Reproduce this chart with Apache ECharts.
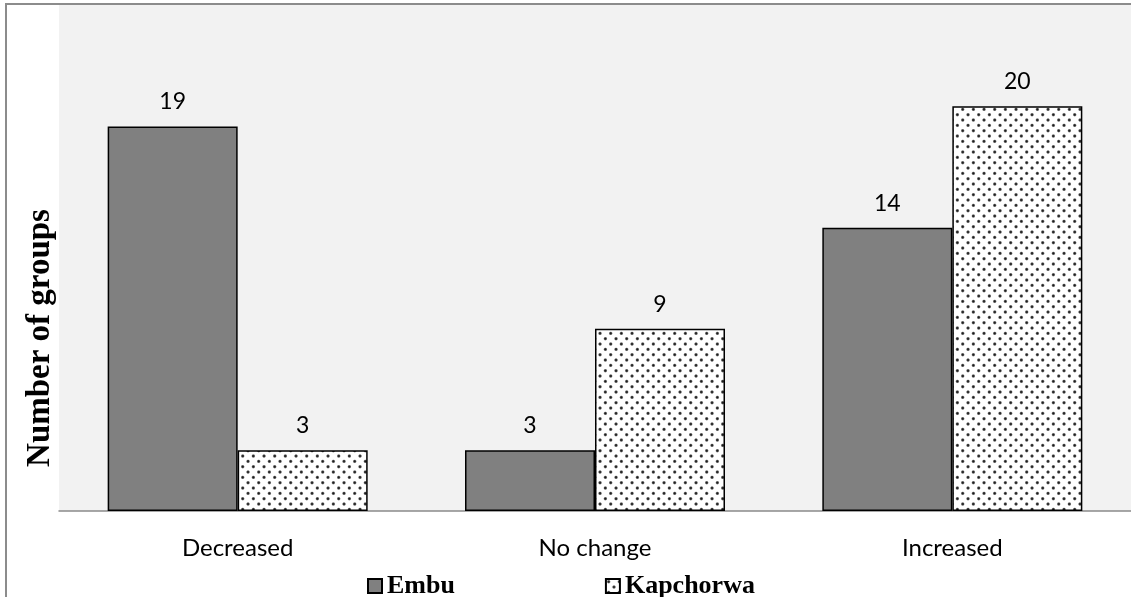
<!DOCTYPE html>
<html>
<head>
<meta charset="utf-8">
<style>
  html, body { margin: 0; padding: 0; background: #ffffff; }
  #chart { width: 1131px; height: 597px; }
</style>
<script src="https://cdn.jsdelivr.net/npm/echarts@6/dist/echarts.min.js"></script>
</head>
<body>
<div id="chart"></div>
<script>
// Change in number of groups, by district
const categories = ['Decreased', 'No change', 'Increased'];
const embu = [19, 3, 14];
const kapchorwa = [3, 9, 20];
const seriesNames = ['Embu', 'Kapchorwa'];
const axisTitle = 'Number of groups';

// Staggered dot fill for the Kapchorwa bars
function dotPattern() {
  const size = 32;
  const step = size / 3;
  const c = document.createElement('canvas');
  c.width = size; c.height = size;
  const ctx = c.getContext('2d');
  ctx.fillStyle = '#ffffff';
  ctx.fillRect(0, 0, size, size);
  function dot(x, y) {
    const g = ctx.createRadialGradient(x, y, 0, x, y, 2.2);
    g.addColorStop(0, 'rgba(20,20,20,1)');
    g.addColorStop(0.45, 'rgba(40,40,40,0.9)');
    g.addColorStop(1, 'rgba(90,90,90,0)');
    ctx.fillStyle = g;
    ctx.beginPath(); ctx.arc(x, y, 2.2, 0, Math.PI * 2); ctx.fill();
  }
  for (let i = 0; i < 3; i++) {
    for (let j = 0; j < 3; j++) {
      const x1 = 2.7 + i * step, y1 = 2.7 + j * step;
      dot(x1, y1);
      dot(x1 + step / 2, y1 + step / 2);
    }
  }
  return c;
}

const chart = echarts.init(document.getElementById('chart'), null, { renderer: 'canvas' });
const dots = { image: dotPattern(), repeat: 'repeat' };
const labelFont = 'Lato, "Open Sans", sans-serif';

chart.setOption({
  animation: false,
  backgroundColor: '#ffffff',
  grid: {
    left: 59, right: -2, top: 5, bottom: 86,
    show: true, backgroundColor: '#f2f2f2', borderWidth: 0
  },
  legend: {
    data: seriesNames,
    left: 362, top: 568,
    itemWidth: 14, itemHeight: 14, itemGap: 150,
    icon: 'rect',
    textStyle: { fontFamily: '"Liberation Serif", "Times New Roman", serif', fontWeight: 'bold', fontSize: 26, color: '#000' }
  },
  xAxis: {
    type: 'category',
    data: categories,
    axisLine: { show: true, lineStyle: { color: '#8a8a8a', width: 1.5 } },
    axisTick: { show: false },
    axisLabel: { fontFamily: labelFont, fontSize: 24, color: '#000', margin: 25 }
  },
  yAxis: {
    type: 'value',
    min: 0, max: 25,
    axisLine: { show: false },
    axisTick: { show: false },
    axisLabel: { show: false },
    splitLine: { show: false }
  },
  series: [
    {
      name: seriesNames[0], type: 'bar', data: embu,
      barWidth: 130, barGap: '0%',
      itemStyle: { color: '#808080', borderColor: '#000', borderWidth: 1.5 },
      label: { show: true, position: 'top', distance: 13, fontFamily: labelFont, fontSize: 23, color: '#000' }
    },
    {
      name: seriesNames[1], type: 'bar', data: kapchorwa,
      barWidth: 130, barGap: '0%',
      itemStyle: { color: dots, borderColor: '#000', borderWidth: 1.5 },
      label: { show: true, position: 'top', distance: 13, fontFamily: labelFont, fontSize: 23, color: '#000' }
    }
  ],
  graphic: [
    {
      type: 'rect', silent: true, z: 100,
      shape: { x: 6, y: 4, width: 1200, height: 700 },
      style: { fill: 'none', stroke: '#8c8c8c', lineWidth: 2 }
    },
    {
      type: 'text', z: 100,
      x: 40, y: 338, rotation: Math.PI / 2,
      style: {
        text: axisTitle, fill: '#000',
        font: 'bold 33px "Liberation Serif", "Times New Roman", serif',
        textAlign: 'center', textVerticalAlign: 'middle'
      }
    }
  ]
});
</script>
</body>
</html>
